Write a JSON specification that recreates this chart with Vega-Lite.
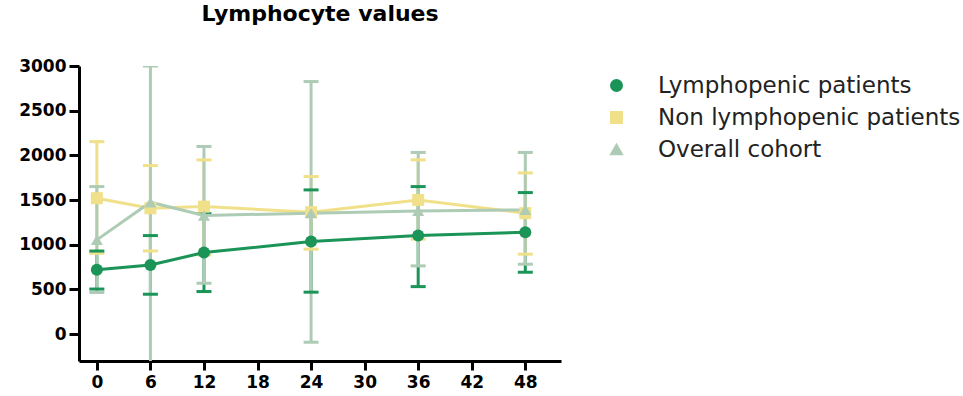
{
  "$schema": "https://vega.github.io/schema/vega-lite/v6.json",
  "width": 482,
  "height": 295,
  "autosize": {"type": "none"},
  "padding": {"left": 79, "top": 66, "right": 402, "bottom": 35},
  "background": "white",
  "title": {
    "text": "Lymphocyte values",
    "font": "DejaVu Sans",
    "fontWeight": "bold",
    "fontSize": 22,
    "color": "black",
    "anchor": "middle",
    "offset": 31
  },
  "config": {
    "view": {"stroke": null},
    "axis": {
      "grid": false,
      "domainColor": "black",
      "domainWidth": 3,
      "tickColor": "black",
      "tickWidth": 3,
      "labelFont": "DejaVu Sans",
      "labelFontWeight": "bold",
      "labelFontSize": 17,
      "labelColor": "black",
      "title": null
    }
  },
  "data": {
    "values": [
      {"series": "Lymphopenic patients", "time": 0, "mean": 720, "lo": 505, "hi": 930},
      {"series": "Lymphopenic patients", "time": 6, "mean": 775, "lo": 447, "hi": 1103},
      {"series": "Lymphopenic patients", "time": 12, "mean": 913, "lo": 477, "hi": 1349},
      {"series": "Lymphopenic patients", "time": 24, "mean": 1036, "lo": 470, "hi": 1614},
      {"series": "Lymphopenic patients", "time": 36, "mean": 1103, "lo": 532, "hi": 1651},
      {"series": "Lymphopenic patients", "time": 48, "mean": 1141, "lo": 693, "hi": 1584},
      {"series": "Non lymphopenic patients", "time": 0, "mean": 1521, "lo": 905, "hi": 2154},
      {"series": "Non lymphopenic patients", "time": 6, "mean": 1409, "lo": 931, "hi": 1886},
      {"series": "Non lymphopenic patients", "time": 12, "mean": 1427, "lo": 887, "hi": 1950},
      {"series": "Non lymphopenic patients", "time": 24, "mean": 1365, "lo": 951, "hi": 1763},
      {"series": "Non lymphopenic patients", "time": 36, "mean": 1502, "lo": 1063, "hi": 1950},
      {"series": "Non lymphopenic patients", "time": 48, "mean": 1354, "lo": 895, "hi": 1804},
      {"series": "Overall cohort", "time": 0, "mean": 1055, "lo": 466, "hi": 1651},
      {"series": "Overall cohort", "time": 6, "mean": 1476, "lo": -500, "hi": 3000},
      {"series": "Overall cohort", "time": 12, "mean": 1328, "lo": 570, "hi": 2100},
      {"series": "Overall cohort", "time": 24, "mean": 1354, "lo": -90, "hi": 2826},
      {"series": "Overall cohort", "time": 36, "mean": 1379, "lo": 764, "hi": 2033},
      {"series": "Overall cohort", "time": 48, "mean": 1390, "lo": 783, "hi": 2033}
    ]
  },
  "encoding": {
    "x": {
      "field": "time",
      "type": "quantitative",
      "scale": {"domain": [-2, 52], "nice": false, "zero": false},
      "axis": {"values": [0, 6, 12, 18, 24, 30, 36, 42, 48], "tickSize": 9, "labelPadding": 4}
    }
  },
  "layer": [
    {
      "mark": {"type": "rule", "strokeWidth": 3, "clip": true},
      "encoding": {
        "y": {
          "field": "lo",
          "type": "quantitative",
          "scale": {"domain": [-300, 3000], "nice": false, "zero": false},
          "axis": {"values": [0, 500, 1000, 1500, 2000, 2500, 3000], "format": "d", "tickSize": 10, "labelPadding": 3}
        },
        "y2": {"field": "hi"},
        "color": {
          "field": "series",
          "type": "nominal",
          "scale": {
            "domain": ["Lymphopenic patients", "Non lymphopenic patients", "Overall cohort"],
            "range": ["#1a9457", "#f0e08a", "#aecbb5"]
          }
        }
      }
    },
    {
      "mark": {"type": "tick", "orient": "horizontal", "size": 15, "thickness": 3, "opacity": 1, "clip": true},
      "encoding": {
        "y": {"field": "lo", "type": "quantitative"},
        "color": {"field": "series", "type": "nominal"}
      }
    },
    {
      "mark": {"type": "tick", "orient": "horizontal", "size": 15, "thickness": 3, "opacity": 1, "clip": true},
      "encoding": {
        "y": {"field": "hi", "type": "quantitative"},
        "color": {"field": "series", "type": "nominal"}
      }
    },
    {
      "mark": {"type": "line", "strokeWidth": 3},
      "encoding": {
        "y": {"field": "mean", "type": "quantitative"},
        "color": {"field": "series", "type": "nominal"}
      }
    },
    {
      "mark": {"type": "point", "filled": true, "opacity": 1, "size": 144},
      "encoding": {
        "y": {"field": "mean", "type": "quantitative"},
        "shape": {
          "field": "series",
          "type": "nominal",
          "scale": {
            "domain": ["Lymphopenic patients", "Non lymphopenic patients", "Overall cohort"],
            "range": ["circle", "square", "triangle-up"]
          }
        },
        "color": {
          "field": "series",
          "type": "nominal",
          "legend": {
            "title": null,
            "orient": "none",
            "legendX": 526,
            "legendY": 8,
            "padding": 0,
            "rowPadding": 8,
            "symbolSize": 120,
            "symbolStrokeWidth": 2,
            "labelOffset": 30,
            "labelFont": "DejaVu Sans",
            "labelFontSize": 23,
            "labelColor": "#222222",
            "labelLimit": 400
          }
        }
      }
    }
  ]
}
